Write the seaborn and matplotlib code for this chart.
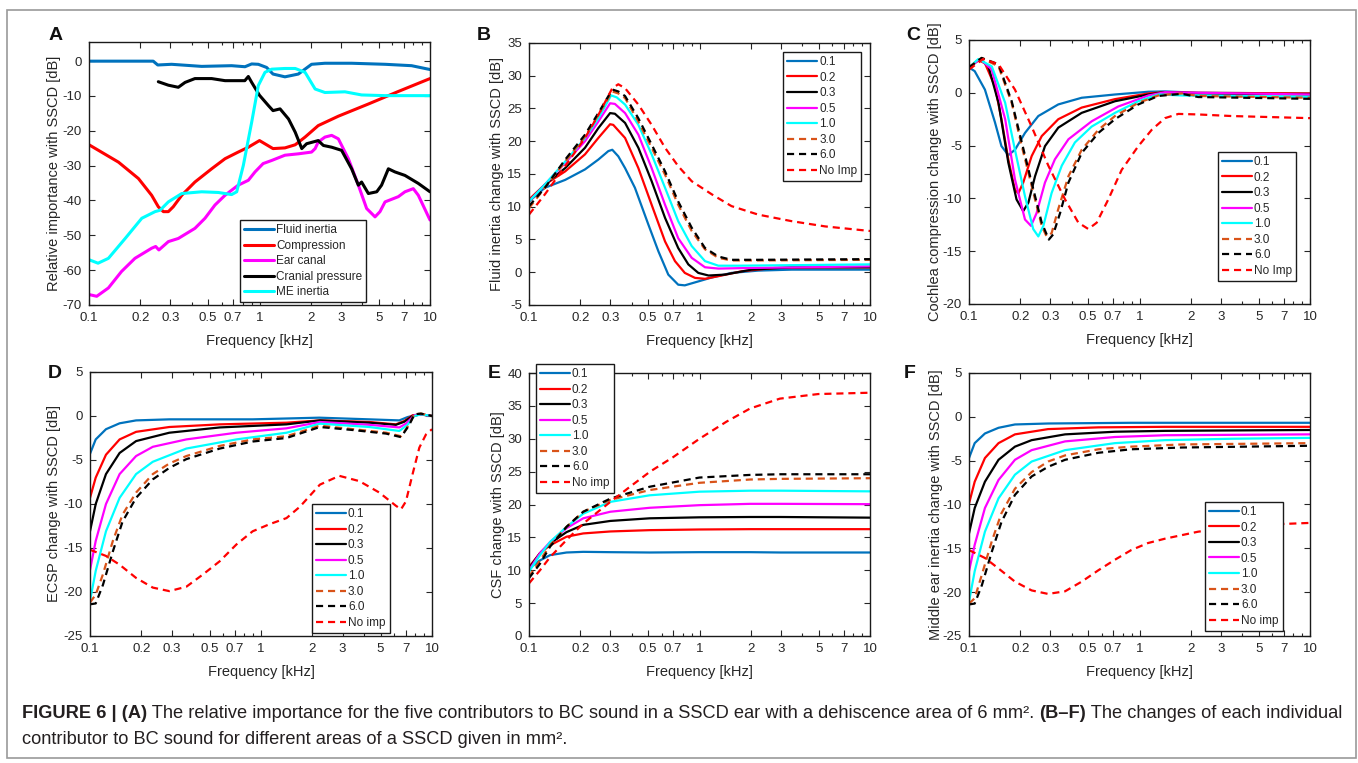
import numpy as np
import seaborn as sns
import matplotlib.pyplot as plt
from matplotlib.patches import Rectangle
from matplotlib.ticker import FixedLocator, FixedFormatter, LogLocator, NullFormatter

W, H = 1358, 763

freq_ticks = [0.1, 0.2, 0.3, 0.5, 0.7, 1, 2, 3, 5, 7, 10]
freq_tick_labels = ['0.1', '0.2', '0.3', '0.5', '0.7', '1', '2', '3', '5', '7', '10']
area_labels = ['0.1', '0.2', '0.3', '0.5', '1.0', '3.0', '6.0']
contributors = ['Fluid inertia', 'Compression', 'Ear canal', 'Cranial pressure', 'ME inertia']

# ---------------- panel A: relative importance, 6 mm2 dehiscence
a_fluid_f = [0.1, 0.15, 0.238, 0.253, 0.305, 0.458, 0.686, 0.822, 0.90, 0.984, 1.10, 1.20, 1.41, 1.69, 2.02, 2.42, 3.47, 5.45, 7.8, 10]
a_fluid_db = [0, 0, 0, -1.1, -0.9, -1.5, -1.3, -1.6, -0.8, -0.9, -1.8, -3.7, -4.5, -3.7, -0.9, -0.6, -0.6, -0.9, -1.3, -2.4]
a_comp_f = [0.1, 0.149, 0.195, 0.233, 0.255, 0.273, 0.292, 0.312, 0.35, 0.418, 0.524, 0.628, 0.75, 0.86, 1.0, 1.10, 1.2, 1.41, 1.62, 1.85, 2.21, 2.9, 4.35, 6.52, 10]
a_comp_db = [-24, -29, -33.7, -38.5, -41.8, -43.2, -43.2, -41.8, -38.5, -34.7, -30.9, -28, -26.1, -24.7, -22.8, -24, -25.1, -24.9, -24, -21.8, -18.5, -15.8, -12.3, -8.7, -5]
a_ear_f = [0.1, 0.111, 0.130, 0.155, 0.186, 0.233, 0.246, 0.257, 0.292, 0.334, 0.418, 0.479, 0.548, 0.628, 0.75, 0.86, 0.941, 1.05, 1.18, 1.41, 1.69, 2.02, 2.12, 2.21, 2.42, 2.65, 2.9, 3.32, 3.8, 4.25, 4.76, 5.09, 5.45, 6.52, 7.13, 7.98, 8.54, 10]
a_ear_db = [-67, -67.5, -65.1, -60.4, -56.6, -53.7, -53.2, -54.2, -51.8, -50.9, -48, -45.1, -41.3, -38.5, -35.6, -34.2, -31.8, -29.4, -28.5, -27, -26.6, -26.1, -25.1, -23.2, -21.8, -21.3, -22.3, -28, -35.6, -42.3, -44.7, -43.2, -40.4, -38.9, -37.5, -36.6, -38.5, -45.6]
a_cran_f = [0.255, 0.292, 0.334, 0.366, 0.418, 0.524, 0.628, 0.75, 0.82, 0.86, 0.9, 1.0, 1.13, 1.2, 1.32, 1.48, 1.62, 1.77, 1.89, 2.21, 2.37, 2.65, 3.03, 3.47, 3.8, 3.97, 4.35, 4.87, 5.2, 5.7, 6.23, 7.13, 8.54, 10]
a_cran_db = [-5.9, -6.9, -7.5, -6.1, -5.0, -5.0, -5.6, -5.6, -5.6, -4.4, -6.1, -9.8, -12.8, -14.2, -13.7, -16.6, -20.4, -25.1, -23.7, -22.8, -24.2, -24.7, -25.6, -30.9, -35.6, -34.7, -38, -37.5, -35.6, -30.9, -31.8, -32.8, -35.1, -37.5]
a_me_f = [0.1, 0.113, 0.130, 0.163, 0.204, 0.244, 0.261, 0.292, 0.35, 0.458, 0.574, 0.686, 0.735, 0.804, 0.9, 0.984, 1.077, 1.18, 1.41, 1.62, 1.85, 2.12, 2.42, 3.17, 3.97, 5.45, 10]
a_me_db = [-57, -58, -56.6, -50.9, -45.1, -43.2, -42.8, -40.4, -38, -37.5, -37.7, -38.3, -37.5, -29.9, -17.5, -7, -3.2, -2.3, -2.1, -2.1, -3.2, -8, -9, -8.8, -9.7, -9.9, -9.9]

# ---------------- panel B: fluid inertia change
b01_f = [0.1, 0.124, 0.163, 0.213, 0.255, 0.292, 0.308, 0.334, 0.366, 0.418, 0.501, 0.574, 0.656, 0.75, 0.82, 0.984, 1.18, 1.54, 2.21, 3.47, 10]
b01_db = [10.8, 12.9, 14.1, 15.7, 17.2, 18.5, 18.7, 17.7, 15.9, 12.9, 7.3, 3.2, -0.36, -1.9, -2.0, -1.4, -0.8, -0.1, 0.25, 0.4, 0.4]
b02_f = [0.1, 0.124, 0.163, 0.213, 0.255, 0.299, 0.312, 0.366, 0.438, 0.524, 0.628, 0.718, 0.82, 0.941, 1.077, 1.29, 1.77, 2.77, 5.45, 10]
b02_db = [11.1, 13.4, 15.4, 18.0, 20.5, 22.6, 22.5, 20.5, 15.9, 10.3, 4.7, 1.7, -0.1, -0.86, -1.0, -0.6, 0.15, 0.66, 0.76, 0.76]
b03_f = [0.1, 0.124, 0.163, 0.213, 0.255, 0.299, 0.319, 0.366, 0.438, 0.524, 0.628, 0.75, 0.86, 0.984, 1.13, 1.41, 2.02, 3.47, 10]
b03_db = [10.8, 13.4, 15.9, 19.0, 22.0, 24.3, 24.2, 22.8, 19.0, 13.9, 8.3, 3.7, 1.2, -0.1, -0.5, -0.36, 0.4, 0.76, 0.76]
b05_f = [0.1, 0.124, 0.163, 0.213, 0.255, 0.299, 0.319, 0.366, 0.438, 0.524, 0.628, 0.75, 0.9, 1.077, 1.29, 2.02, 10]
b05_db = [10.8, 13.4, 16.7, 20.0, 23.0, 25.8, 25.7, 24.3, 21.0, 15.9, 10.3, 5.2, 2.2, 0.76, 0.56, 0.66, 0.9]
b10_f = [0.1, 0.124, 0.163, 0.213, 0.255, 0.303, 0.327, 0.366, 0.438, 0.524, 0.628, 0.75, 0.9, 1.077, 1.29, 1.69, 10]
b10_db = [10.8, 13.4, 16.9, 20.5, 23.5, 27.0, 26.7, 25.6, 22.5, 18.0, 12.9, 7.8, 4.0, 1.7, 1.0, 1.0, 1.2]
b30_f = [0.1, 0.124, 0.163, 0.213, 0.255, 0.308, 0.334, 0.366, 0.438, 0.524, 0.628, 0.75, 0.9, 1.077, 1.29, 1.54, 2.21, 10]
b30_db = [9.8, 12.9, 16.9, 20.7, 24.0, 27.6, 27.3, 26.6, 23.0, 19.0, 14.9, 10.3, 6.3, 3.5, 2.2, 1.8, 1.8, 1.9]
b60_f = [0.1, 0.124, 0.163, 0.213, 0.255, 0.308, 0.334, 0.366, 0.438, 0.524, 0.628, 0.75, 0.9, 1.077, 1.29, 1.54, 2.21, 10]
b60_db = [10.1, 12.9, 17.2, 21.0, 24.3, 27.9, 27.6, 26.9, 23.5, 19.5, 15.4, 10.8, 6.8, 3.7, 2.4, 1.9, 1.9, 2.0]
bni_f = [0.1, 0.124, 0.163, 0.213, 0.255, 0.308, 0.334, 0.366, 0.438, 0.524, 0.628, 0.75, 0.9, 1.18, 1.54, 2.21, 3.47, 5.45, 10]
bni_db = [8.8, 11.9, 16.2, 20.5, 24.0, 28.1, 28.7, 28.1, 25.6, 22.5, 19.0, 16.2, 13.9, 11.9, 10.1, 8.8, 7.8, 7.0, 6.3]

# ---------------- panel C: cochlea compression change
c01_f = [0.1, 0.108, 0.124, 0.142, 0.155, 0.170, 0.186, 0.213, 0.255, 0.334, 0.458, 0.718, 1.13, 1.41, 2.21, 10]
c01_db = [2.4, 2.05, 0.3, -2.8, -5.05, -5.9, -5.4, -3.8, -2.2, -1.1, -0.47, -0.16, 0.1, 0.13, 0, -0.06]
c02_f = [0.1, 0.1134, 0.124, 0.142, 0.155, 0.170, 0.186, 0.195, 0.208, 0.233, 0.267, 0.334, 0.458, 0.718, 1.13, 1.41, 2.21, 10]
c02_db = [2.4, 3.1, 2.8, 0.6, -2.5, -6.3, -9.2, -9.5, -8.5, -6.0, -4.1, -2.5, -1.4, -0.6, -0.06, 0.06, 0, -0.06]
c03_f = [0.1, 0.116, 0.130, 0.149, 0.170, 0.190, 0.208, 0.223, 0.244, 0.279, 0.334, 0.458, 0.718, 1.13, 1.41, 2.21, 10]
c03_db = [2.4, 3.2, 2.5, -0.95, -6.6, -10.1, -11.2, -10.4, -7.9, -5.05, -3.3, -1.9, -0.8, -0.16, 0.06, -0.06, -0.16]
c05_f = [0.1, 0.116, 0.136, 0.163, 0.186, 0.213, 0.231, 0.249, 0.279, 0.319, 0.383, 0.524, 0.75, 1.13, 1.41, 2.21, 10]
c05_db = [2.4, 3.2, 2.2, -2.5, -8.2, -12.0, -12.6, -11.4, -8.5, -6.3, -4.4, -2.7, -1.3, -0.25, 0.06, 0, -0.16]
c10_f = [0.1, 0.1134, 0.136, 0.163, 0.186, 0.213, 0.238, 0.255, 0.273, 0.305, 0.35, 0.418, 0.524, 0.718, 0.984, 1.29, 1.77, 10]
c10_db = [2.4, 3.2, 2.5, -0.95, -5.4, -9.8, -12.9, -13.6, -12.6, -9.5, -6.9, -4.7, -3.2, -1.9, -0.8, -0.16, -0.25, -0.38]
c30_f = [0.1, 0.1186, 0.149, 0.178, 0.204, 0.233, 0.267, 0.285, 0.305, 0.334, 0.383, 0.458, 0.574, 0.718, 0.984, 1.29, 1.77, 2.21, 10]
c30_db = [2.4, 3.3, 2.5, -0.95, -5.05, -8.8, -12.6, -13.6, -13.3, -11.0, -7.9, -5.4, -3.5, -2.2, -0.95, -0.25, -0.06, -0.3, -0.47]
c60_f = [0.1, 0.1186, 0.149, 0.178, 0.204, 0.233, 0.267, 0.294, 0.312, 0.342, 0.383, 0.458, 0.574, 0.718, 0.984, 1.29, 1.77, 2.21, 10]
c60_db = [2.4, 3.3, 2.7, -0.8, -4.7, -8.5, -12.3, -13.9, -13.4, -11.4, -8.5, -5.7, -3.8, -2.5, -1.1, -0.3, -0.1, -0.4, -0.57]
cni_f = [0.1, 0.121, 0.149, 0.186, 0.233, 0.292, 0.366, 0.438, 0.501, 0.561, 0.656, 0.786, 0.984, 1.18, 1.41, 1.69, 2.21, 3.47, 10]
cni_db = [2.2, 3.2, 2.7, 0.3, -3.2, -6.9, -10.1, -12.3, -12.9, -12.3, -10.1, -7.3, -5.05, -3.5, -2.4, -2.0, -2.05, -2.2, -2.4]

# ---------------- panel D: ECSP change
d01_f = [0.1, 0.108, 0.124, 0.149, 0.186, 0.291, 0.894, 2.19, 4.3, 6.44, 7.2, 8.43, 10]
d01_db = [-4.3, -2.66, -1.5, -0.83, -0.5, -0.38, -0.38, -0.19, -0.38, -0.5, -0.12, 0.19, 0]
d02_f = [0.1, 0.108, 0.124, 0.149, 0.186, 0.291, 0.574, 1.41, 2.21, 4.3, 6.15, 6.89, 7.7, 8.62, 10]
d02_db = [-9.3, -7.0, -4.4, -2.66, -1.8, -1.25, -0.95, -0.76, -0.5, -0.68, -0.95, -0.57, 0.08, 0.19, 0]
d03_f = [0.1, 0.108, 0.124, 0.149, 0.186, 0.291, 0.574, 1.41, 2.21, 4.3, 6.15, 6.89, 7.7, 8.62, 10]
d03_db = [-13.1, -10.0, -6.6, -4.2, -2.85, -1.9, -1.3, -0.95, -0.5, -0.76, -1.0, -0.65, 0, 0.19, 0]
d05_f = [0.1, 0.108, 0.124, 0.149, 0.186, 0.233, 0.366, 0.718, 1.41, 2.21, 4.3, 6.44, 7.04, 7.88, 8.62, 10]
d05_db = [-17.5, -14.2, -10.0, -6.6, -4.55, -3.5, -2.66, -1.9, -1.4, -0.68, -1.0, -1.3, -0.87, 0.08, 0.19, 0]
d10_f = [0.1, 0.108, 0.124, 0.149, 0.186, 0.233, 0.366, 0.718, 1.41, 2.21, 4.3, 6.44, 7.2, 7.88, 8.62, 10]
d10_db = [-21.0, -17.6, -13.1, -9.3, -6.6, -5.2, -3.7, -2.66, -1.9, -0.87, -1.25, -1.7, -1.0, 0.0, 0.19, 0]
d30_f = [0.1, 0.108, 0.119, 0.136, 0.155, 0.186, 0.233, 0.291, 0.366, 0.574, 0.894, 1.41, 2.21, 3.47, 5.39, 6.59, 7.37, 7.88, 8.62, 10]
d30_db = [-21.2, -20.3, -18.0, -14.2, -11.2, -8.7, -6.6, -5.4, -4.55, -3.4, -2.66, -2.3, -1.1, -1.5, -1.9, -2.3, -0.95, 0.19, 0.27, 0]
d60_f = [0.1, 0.108, 0.119, 0.136, 0.155, 0.186, 0.233, 0.291, 0.366, 0.574, 0.894, 1.41, 2.21, 3.47, 5.39, 6.59, 7.37, 7.88, 8.62, 10]
d60_db = [-21.4, -21.3, -19.2, -15.4, -12.0, -9.3, -7.2, -5.9, -4.9, -3.7, -2.9, -2.5, -1.25, -1.6, -2.0, -2.4, -1.0, 0.19, 0.27, 0]
dni_f = [0.1, 0.124, 0.149, 0.186, 0.233, 0.291, 0.366, 0.458, 0.574, 0.718, 0.894, 1.12, 1.41, 1.69, 2.21, 2.87, 3.76, 4.92, 6.15, 6.59, 7.04, 7.7, 8.43, 9.22, 10]
dni_db = [-15.2, -15.9, -16.9, -18.4, -19.5, -19.9, -19.4, -18.0, -16.5, -14.6, -13.1, -12.3, -11.6, -10.3, -7.8, -6.8, -7.4, -8.7, -10.2, -10.6, -9.7, -6.6, -3.6, -2.1, -1.5]

# ---------------- panel E: CSF change
e_f = [0.1, 0.116, 0.133, 0.166, 0.208, 0.3, 0.51, 1.0, 1.98, 3.0, 10]
e01_db = [10.3, 11.5, 12.3, 12.7, 12.8, 12.75, 12.7, 12.75, 12.75, 12.7, 12.7]
e02_db = [10.5, 12.6, 13.8, 15.1, 15.6, 15.9, 16.1, 16.2, 16.25, 16.25, 16.25]
e03_db = [10.3, 12.6, 14.1, 15.8, 16.9, 17.5, 17.9, 18.05, 18.1, 18.1, 18.0]
e05_db = [10.0, 12.6, 14.3, 16.4, 17.9, 18.9, 19.5, 19.9, 20.1, 20.1, 20.05]
e10_db = [9.8, 12.3, 14.3, 16.6, 18.6, 20.4, 21.4, 21.95, 22.1, 22.1, 22.0]
e30_db = [9.0, 11.5, 13.8, 16.6, 18.9, 20.7, 22.2, 23.3, 23.8, 23.9, 24.0]
e60_db = [8.8, 11.0, 13.6, 16.6, 18.9, 20.9, 22.7, 24.1, 24.5, 24.6, 24.6]
eni_f = [0.1, 0.116, 0.133, 0.166, 0.208, 0.3, 0.391, 0.513, 0.7, 1.0, 1.44, 1.98, 2.96, 4.97, 10]
eni_db = [8.0, 10.0, 12.0, 14.6, 17.1, 20.4, 22.7, 25.0, 27.2, 30.0, 32.6, 34.6, 36.1, 36.8, 37.0]

# ---------------- panel F: middle ear inertia change
f01_f = [0.1, 0.108, 0.124, 0.149, 0.186, 0.291, 0.894, 10]
f01_db = [-4.7, -3.0, -1.9, -1.25, -0.87, -0.76, -0.68, -0.68]
f02_f = [0.1, 0.108, 0.124, 0.149, 0.186, 0.291, 0.574, 1.41, 10]
f02_db = [-9.9, -7.4, -4.7, -3.0, -2.0, -1.4, -1.2, -1.14, -1.14]
f03_f = [0.1, 0.108, 0.124, 0.149, 0.186, 0.233, 0.366, 0.718, 1.41, 10]
f03_db = [-13.3, -10.4, -7.4, -4.9, -3.4, -2.66, -2.0, -1.7, -1.6, -1.5]
f05_f = [0.1, 0.108, 0.124, 0.149, 0.186, 0.233, 0.366, 0.718, 1.41, 10]
f05_db = [-17.6, -14.6, -10.4, -7.2, -4.9, -3.8, -2.8, -2.3, -2.1, -2.0]
f10_f = [0.1, 0.108, 0.124, 0.149, 0.186, 0.233, 0.366, 0.718, 1.41, 3.47, 10]
f10_db = [-21.1, -17.6, -13.1, -9.3, -6.6, -5.1, -3.8, -3.0, -2.66, -2.5, -2.4]
f30_f = [0.1, 0.108, 0.119, 0.136, 0.155, 0.186, 0.233, 0.291, 0.366, 0.574, 0.894, 1.77, 10]
f30_db = [-21.3, -20.7, -18.0, -14.2, -11.0, -8.2, -6.3, -5.1, -4.4, -3.7, -3.4, -3.15, -3.0]
f60_f = [0.1, 0.108, 0.119, 0.136, 0.155, 0.186, 0.233, 0.291, 0.366, 0.574, 0.894, 1.77, 10]
f60_db = [-21.4, -21.3, -19.2, -15.4, -12.0, -8.9, -6.8, -5.7, -4.9, -4.1, -3.7, -3.5, -3.3]
fni_f = [0.1, 0.124, 0.149, 0.186, 0.233, 0.291, 0.366, 0.458, 0.574, 0.718, 0.894, 1.12, 1.41, 2.21, 3.47, 5.45, 10]
fni_db = [-15.2, -16.1, -17.3, -18.8, -19.8, -20.2, -19.9, -18.8, -17.5, -16.3, -15.2, -14.4, -13.9, -13.1, -12.6, -12.3, -12.1]

# MATLAB-like colours
a_colors = ['#0072BD', '#FF0000', '#FF00FF', '#000000', '#00FFFF']
area_colors = ['#0072BD', '#FF0000', '#000000', '#FF00FF', '#00FFFF', '#D95319', '#000000', '#FF0000']
dash = (0, (3.2, 2.2))
area_styles = ['-', '-', '-', '-', '-', dash, dash, dash]

sns.set_style("ticks")
plt.rcParams['font.family'] = ['Liberation Sans', 'DejaVu Sans']
plt.rcParams['axes.unicode_minus'] = False
TXT = '#262626'

fig = plt.figure(figsize=(W / 100, H / 100), dpi=100)
fig.patch.set_facecolor('white')


def px_axes(l, t, r, b):
    return fig.add_axes([l / W, 1 - b / H, (r - l) / W, (b - t) / H])


def style_axes(ax, ylim, yticks, ylabel, ylab_x, xlab_y):
    ax.set_xscale('log')
    ax.set_xlim(0.1, 10)
    ax.set_ylim(*ylim)
    ax.xaxis.set_major_locator(FixedLocator(freq_ticks))
    ax.xaxis.set_major_formatter(FixedFormatter(freq_tick_labels))
    ax.xaxis.set_minor_locator(LogLocator(base=10, subs=np.arange(2, 10), numticks=20))
    ax.xaxis.set_minor_formatter(NullFormatter())
    ax.set_yticks(yticks)
    ax.set_yticklabels([str(v) for v in yticks])
    ax.tick_params(which='major', direction='in', length=4, width=0.8, top=True, right=True,
                   labelsize=9.5, pad=5, color=TXT, labelcolor=TXT)
    ax.tick_params(which='minor', direction='in', length=2, width=0.8, top=True, right=True, color=TXT)
    for s in ax.spines.values():
        s.set_linewidth(1.0)
        s.set_color('#1a1a1a')
    ax.set_xlabel('Frequency [kHz]', fontsize=10.5, color=TXT)
    ax.set_ylabel(ylabel, fontsize=10.5, color=TXT)
    ax.yaxis.set_label_coords(ylab_x, 0.5)
    ax.xaxis.set_label_coords(0.5, xlab_y)
    ax.grid(False)


def add_legend(ax, anchor, lw):
    handles, labels = ax.get_legend_handles_labels()
    leg = ax.legend(handles, labels, loc='upper left', bbox_to_anchor=anchor, borderaxespad=0,
                    frameon=True, fancybox=False, framealpha=1, edgecolor='#1a1a1a', fontsize=8.5,
                    handlelength=2.55, handletextpad=0.15, labelspacing=0.3, borderpad=0.35)
    leg.get_frame().set_linewidth(1.0)
    for t in leg.get_texts():
        t.set_color(TXT)
    for h in leg.get_lines():
        h.set_linewidth(lw)
    return leg


def area_panel(ax, curves, noimp_label, lw=1.6):
    labels = area_labels + [noimp_label]
    for (f, db), lab, c, ls in zip(curves, labels, area_colors, area_styles):
        sns.lineplot(x=f, y=db, ax=ax, color=c, linewidth=lw, linestyle=ls, label=lab,
                     sort=False, estimator=None)


# ---- A
axA = px_axes(89, 42, 430, 305)
a_curves = [(a_fluid_f, a_fluid_db), (a_comp_f, a_comp_db), (a_ear_f, a_ear_db),
            (a_cran_f, a_cran_db), (a_me_f, a_me_db)]
for (f, db), lab, c in zip(a_curves, contributors, a_colors):
    sns.lineplot(x=f, y=db, ax=axA, color=c, linewidth=2.2, label=lab, sort=False, estimator=None)
style_axes(axA, (-70, 5.5), list(range(-70, 1, 10)), 'Relative importance with SSCD [dB]', -0.082, -0.11)
add_legend(axA, (0.443, 0.323), 2.2)

# ---- B
axB = px_axes(529, 43, 870, 305)
area_panel(axB, [(b01_f, b01_db), (b02_f, b02_db), (b03_f, b03_db), (b05_f, b05_db),
                 (b10_f, b10_db), (b30_f, b30_db), (b60_f, b60_db), (bni_f, bni_db)], 'No Imp')
style_axes(axB, (-5, 35), list(range(-5, 36, 5)), 'Fluid inertia change with SSCD [dB]', -0.073, -0.11)
add_legend(axB, (0.745, 0.966), 1.6)

# ---- C
axC = px_axes(969, 40, 1310, 304)
area_panel(axC, [(c01_f, c01_db), (c02_f, c02_db), (c03_f, c03_db), (c05_f, c05_db),
                 (c10_f, c10_db), (c30_f, c30_db), (c60_f, c60_db), (cni_f, cni_db)], 'No Imp')
style_axes(axC, (-20, 5), list(range(-20, 6, 5)), 'Cochlea compression change with SSCD [dB]', -0.079, -0.11)
add_legend(axC, (0.730, 0.576), 1.6)

# ---- D
axD = px_axes(90, 372, 432, 636)
area_panel(axD, [(d01_f, d01_db), (d02_f, d02_db), (d03_f, d03_db), (d05_f, d05_db),
                 (d10_f, d10_db), (d30_f, d30_db), (d60_f, d60_db), (dni_f, dni_db)], 'No imp')
style_axes(axD, (-25, 5), list(range(-25, 6, 5)), 'ECSP change with SSCD [dB]', -0.085, -0.11)
add_legend(axD, (0.649, 0.50), 1.6)

# ---- E
axE = px_axes(529, 373, 870, 636)
area_panel(axE, [(e_f, e01_db), (e_f, e02_db), (e_f, e03_db), (e_f, e05_db),
                 (e_f, e10_db), (e_f, e30_db), (e_f, e60_db), (eni_f, eni_db)], 'No imp')
style_axes(axE, (0, 40), list(range(0, 41, 5)), 'CSF change with SSCD [dB]', -0.07, -0.11)
add_legend(axE, (0.0205, 1.034), 1.6)

# ---- F
axF = px_axes(969, 373, 1310, 636)
area_panel(axF, [(f01_f, f01_db), (f02_f, f02_db), (f03_f, f03_db), (f05_f, f05_db),
                 (f10_f, f10_db), (f30_f, f30_db), (f60_f, f60_db), (fni_f, fni_db)], 'No imp')
style_axes(axF, (-25, 5), list(range(-25, 6, 5)), 'Middle ear inertia change with SSCD [dB]', -0.076, -0.11)
add_legend(axF, (0.692, 0.51), 1.6)

# panel letters
for letter, (x, y) in zip('ABCDEF', [(49, 27), (477, 27), (906, 27), (48, 365), (488, 365), (904, 365)]):
    fig.text(x / W, 1 - y / H, letter, fontsize=14, weight='bold', color='#111111', va='top', ha='left')

# caption and frame
cap = fig.add_axes([0, 0, 1, 1], zorder=-1)
cap.axis('off')
cap.set_xlim(0, 1)
cap.set_ylim(0, 1)
cap.add_patch(Rectangle((7 / W, 1 - 758 / H), (1356 - 7) / W, (758 - 10) / H, fill=False,
                        edgecolor='#9a9a9a', linewidth=1.2, transform=cap.transAxes))

cap_size = 13.15
line1 = [('FIGURE 6 | (A)', 'bold'),
         (' The relative importance for the five contributors to BC sound in a SSCD ear with a dehiscence area of 6 mm\u00b2. ', 'normal'),
         ('(B\u2013F)', 'bold'),
         (' The changes of each individual', 'normal')]
line2 = [('contributor to BC sound for different areas of a SSCD given in mm\u00b2.', 'normal')]
for segs, base in [(line1, 718), (line2, 744)]:
    prev = None
    for s, w in segs:
        if prev is None:
            prev = cap.text(22 / W, 1 - base / H, s, fontsize=cap_size, weight=w, color='#231f20',
                            va='baseline', ha='left', transform=cap.transAxes)
        else:
            prev = cap.annotate(s, xy=(1, 0), xycoords=prev, fontsize=cap_size, weight=w,
                                color='#231f20', va='bottom', ha='left')

fig.savefig('out.png', dpi=100, facecolor='white')
